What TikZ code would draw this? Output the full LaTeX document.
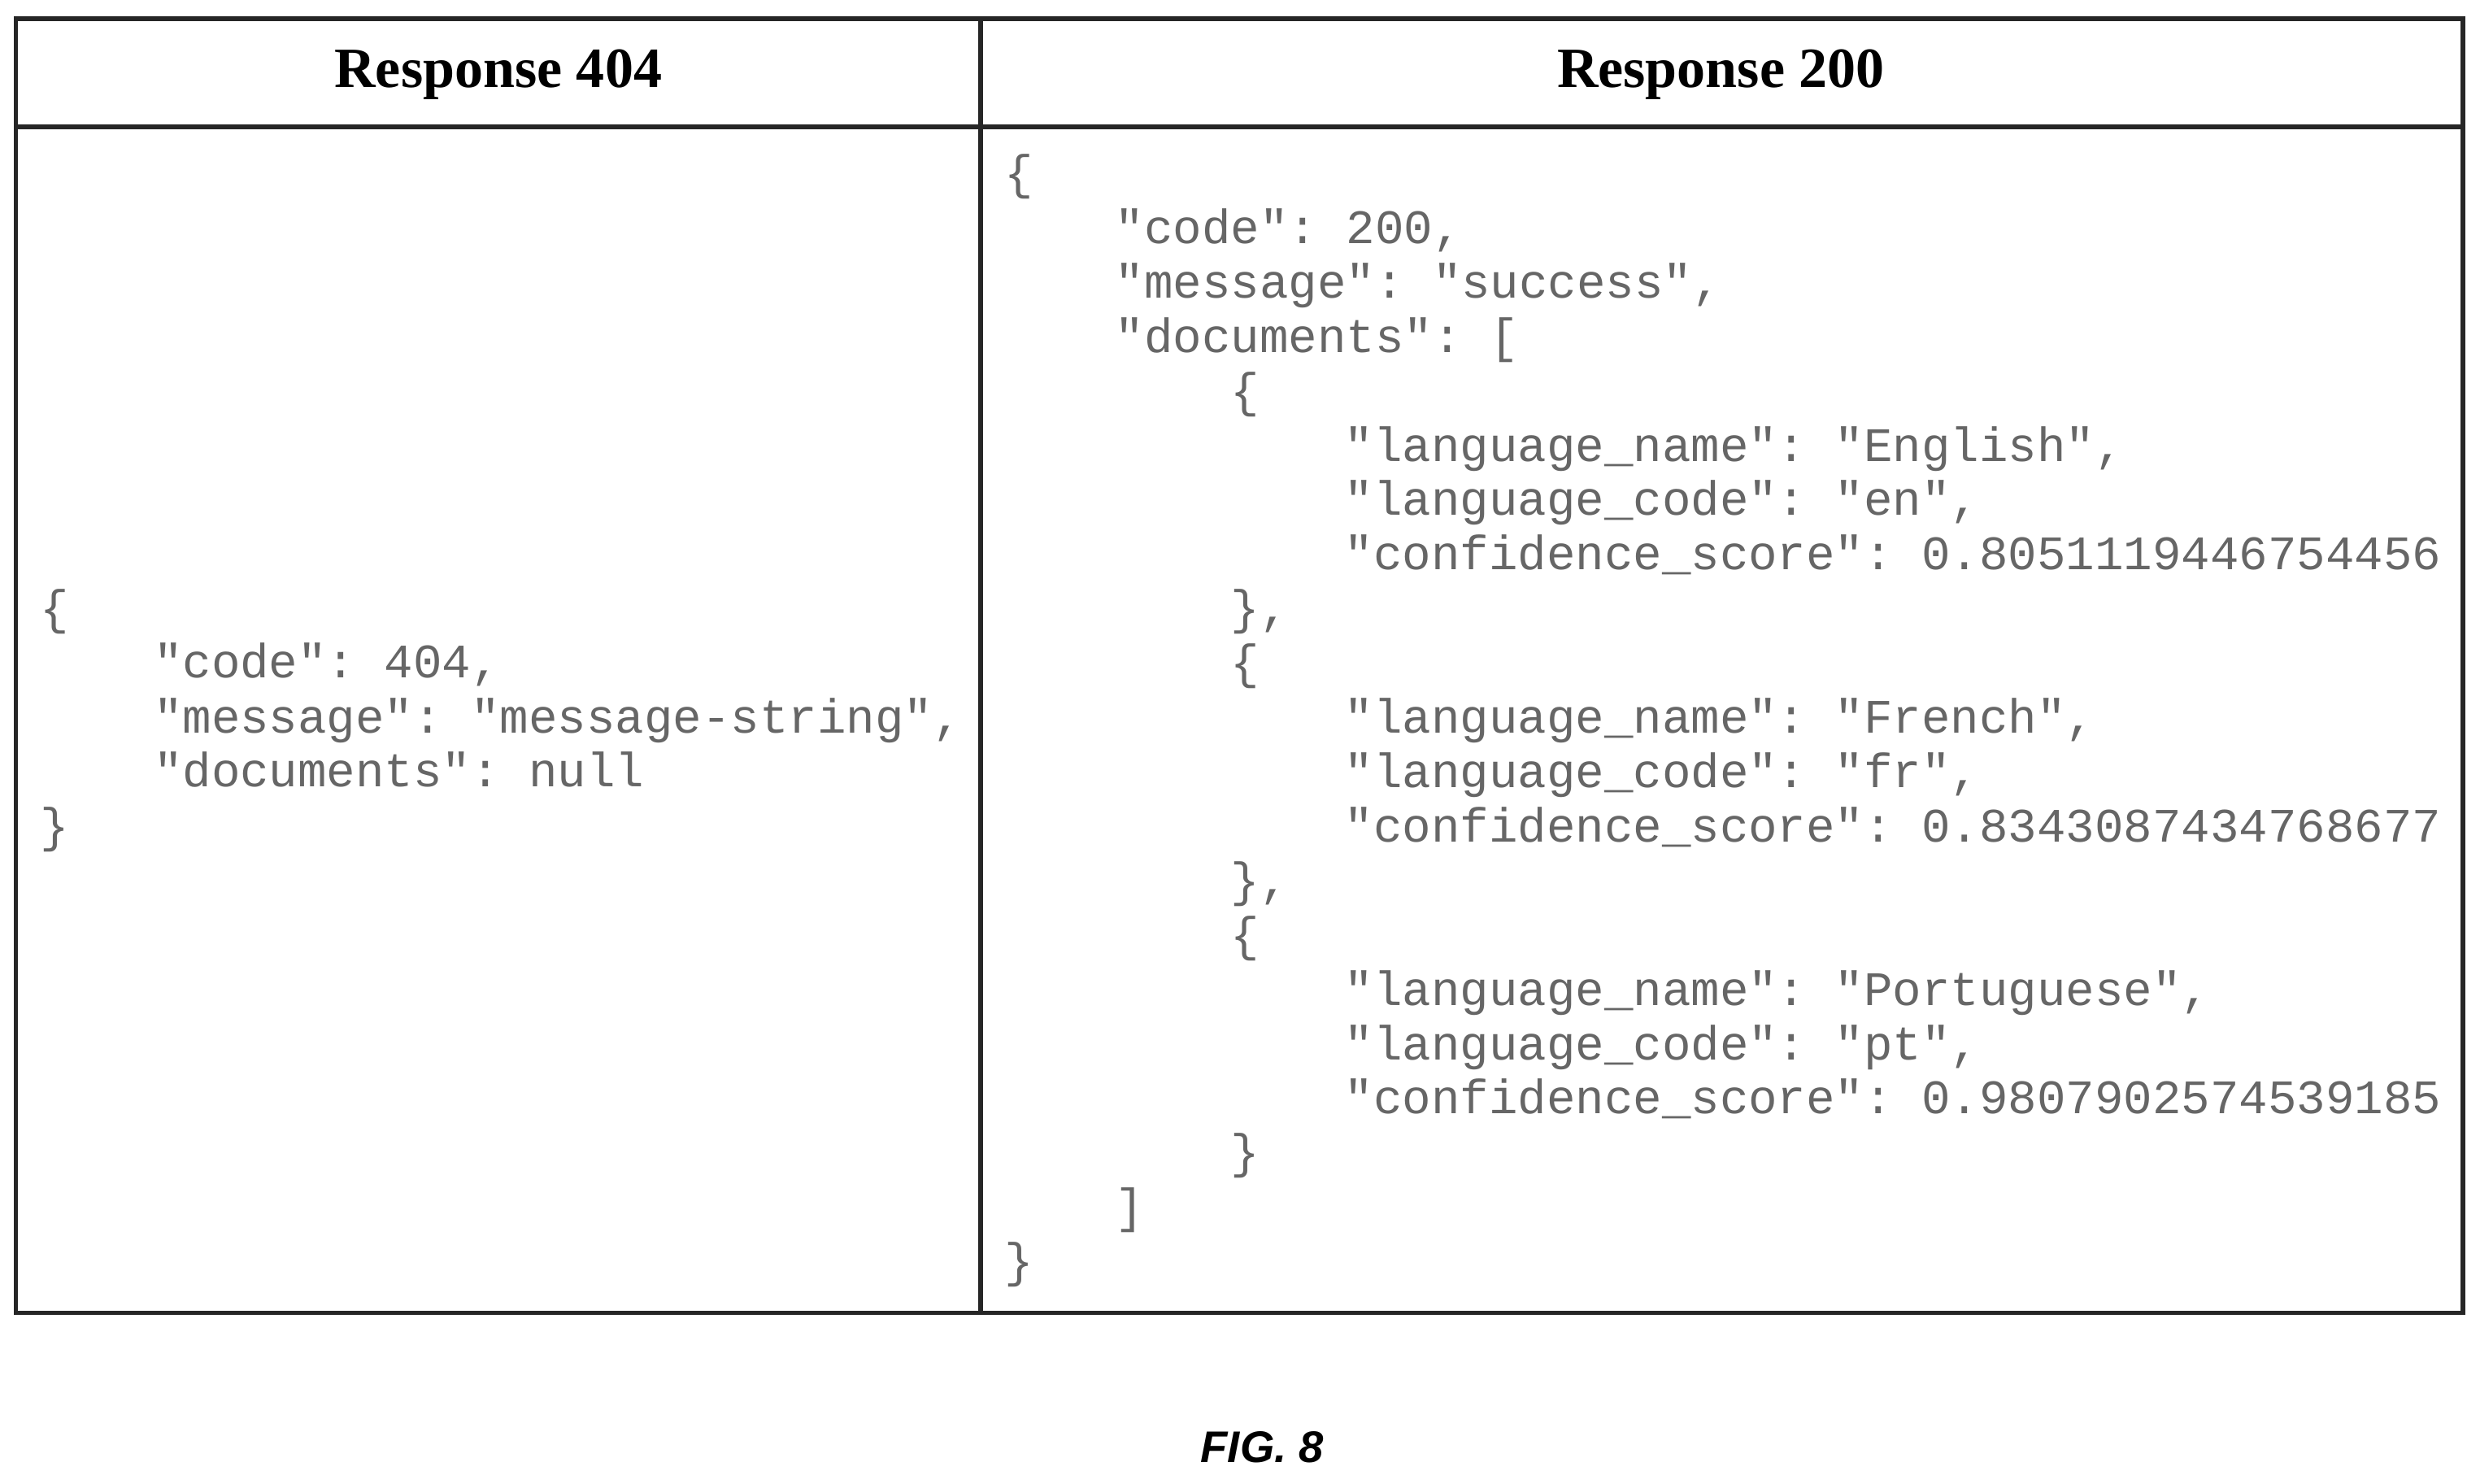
\documentclass[tikz,border=0pt]{standalone}
\usepackage{fontspec}
\setmainfont{Liberation Serif}
\setsansfont{Liberation Sans}
\setmonofont{Liberation Mono}
\begin{document}
\begin{tikzpicture}[x=1pt,y=-1pt,
  code/.style={anchor=west,inner sep=0pt,font=\ttfamily\fontsize{30.4}{34}\selectfont,text=black!60,text height=21pt,text depth=6pt},
  head/.style={font=\bfseries\fontsize{36}{40}\selectfont},
  frame/.style={line width=3pt,draw=black!85}]
\useasboundingbox (0,0) rectangle (1568,938);
\draw[frame] (10,12) rectangle (1557,830);
\draw[frame] (10,80) -- (1557,80);
\draw[frame] (620,12) -- (620,830);
\node[head] (h1) at (315,47) {Response 404};
\node[head] (h2) at (1088,47) {Response 200};
% left
\node[code] (l0) at (25,387) {\{};
\node[code] (l1) at (97,421) {"code": 404,};
\node[code] (l2) at (97,456) {"message": "message-string",};
\node[code] (l3) at (97,490) {"documents": null};
\node[code] (l4) at (25,525) {\}};
% right
\def\L#1#2#3{\node[code] (r#1) at (#2,{112+34.4*#1}) {#3};}
\L{0}{635}{\{}
\L{1}{705}{"code": 200,}
\L{2}{705}{"message": "success",}
\L{3}{705}{"documents": [}
\L{4}{778}{\{}
\L{5}{850}{"language\_name": "English",}
\L{6}{850}{"language\_code": "en",}
\L{7}{850}{"confidence\_score": 0.8051119446754456}
\L{8}{778}{\},}
\L{9}{778}{\{}
\L{10}{850}{"language\_name": "French",}
\L{11}{850}{"language\_code": "fr",}
\L{12}{850}{"confidence\_score": 0.8343087434768677}
\L{13}{778}{\},}
\L{14}{778}{\{}
\L{15}{850}{"language\_name": "Portuguese",}
\L{16}{850}{"language\_code": "pt",}
\L{17}{850}{"confidence\_score": 0.9807902574539185}
\L{18}{778}{\}}
\L{19}{705}{]}
\L{20}{635}{\}}
\node[font=\sffamily\bfseries\itshape\fontsize{28}{32}\selectfont] (fig) at (798,915) {FIG. 8};
\end{tikzpicture}
\end{document}
